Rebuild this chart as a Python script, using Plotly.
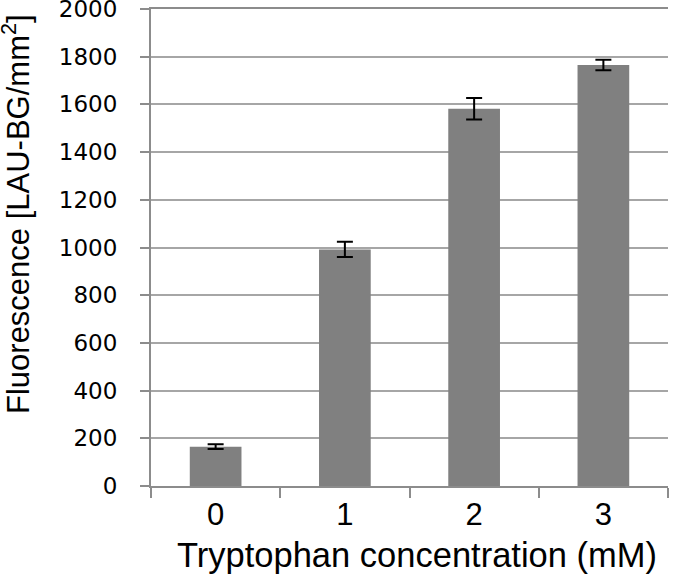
import plotly.graph_objects as go

categories = ["0", "1", "2", "3"]
values = [165, 992, 1582, 1765]
errors = [10, 32, 45, 22]
y_ticks = [0, 200, 400, 600, 800, 1000, 1200, 1400, 1600, 1800, 2000]

fig = go.Figure()
fig.add_trace(go.Bar(
    x=categories, y=values,
    marker=dict(color="#808080", line=dict(width=0)),
    error_y=dict(type="data", array=errors, visible=True, color="black", thickness=2, width=8),
))

PW = 675 - 151 - 7
PH = 583 - 97 - 9

fig.update_layout(
    width=675, height=583,
    margin=dict(l=151, r=7, t=9, b=97, autoexpand=False),
    paper_bgcolor="white", plot_bgcolor="white",
    bargap=0.6,
    showlegend=False,
    xaxis=dict(
        type="category", range=[-0.5, 3.5], automargin=False,
        tickson="boundaries", ticks="outside", ticklen=10, tickwidth=2, tickcolor="#8c8c8c",
        showline=True, linecolor="#8c8c8c", linewidth=2, mirror=True,
        showgrid=False,
        tickfont=dict(family="Liberation Sans, Arial", size=31, color="black"),
    ),
    yaxis=dict(
        range=[0, 2000], tickvals=y_ticks, automargin=False,
        ticks="outside", ticklen=9, tickwidth=2, tickcolor="#8c8c8c",
        showline=True, linecolor="#8c8c8c", linewidth=2,
        showgrid=True, gridcolor="#a6a6a6", gridwidth=2,
        zeroline=False, ticklabeloverflow="allow",
        tickfont=dict(family="DejaVu Sans", size=23, color="black"),
        ticklabelstandoff=18,
    ),
    annotations=[
        dict(text="Fluorescence [LAU-BG/mm<sup>2</sup>]", textangle=-90,
             xref="paper", yref="paper", x=-135 / PW, y=(486 - 214) / PH,
             xanchor="center", yanchor="middle", showarrow=False,
             font=dict(family="Liberation Sans, Arial", size=31, color="black")),
        dict(text="Tryptophan concentration (mM)",
             xref="paper", yref="paper", x=(417 - 151) / PW, y=-(555 - 486) / PH,
             xanchor="center", yanchor="middle", showarrow=False,
             font=dict(family="Liberation Sans, Arial", size=34.5, color="black")),
    ],
)

fig.write_html("out.html", config={"displayModeBar": False},
               post_script="document.body.style.margin='0';")
